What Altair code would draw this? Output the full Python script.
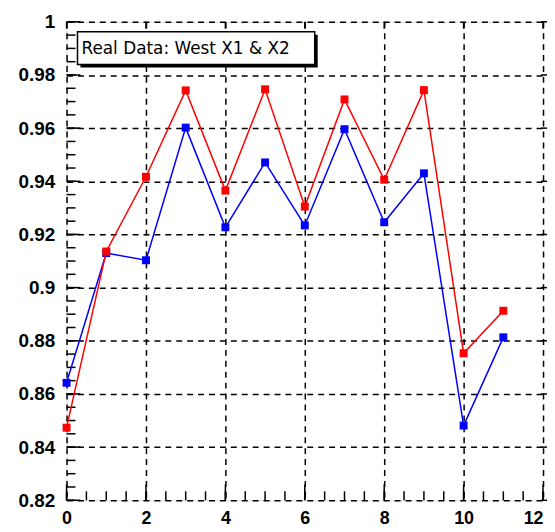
import altair as alt
import pandas as pd
import numpy as np

# ---- data ----
runs = list(range(12))
x2_vals = [0.8473, 0.9136, 0.9417, 0.9742, 0.9365, 0.9746, 0.9305, 0.9708, 0.9406, 0.9743, 0.8753, 0.8913]  # red
x1_vals = [0.8642, 0.9130, 0.9103, 0.9602, 0.9227, 0.9471, 0.9234, 0.9596, 0.9246, 0.9430, 0.8481, 0.8813]  # blue
series_names = ["X1", "X2"]
series_colors = ["#0000ff", "#ff0000"]
x_tick_labels = [0, 2, 4, 6, 8, 10, 12]
y_tick_labels = [0.82, 0.84, 0.86, 0.88, 0.90, 0.92, 0.94, 0.96, 0.98, 1.0]
title_text = "Real Data: West X1 & X2"

W, H = 484, 482
XDOM = [0, 12.1]
YDOM = [0.82, 1.0]

df = pd.DataFrame({
    "run": runs * 2,
    "value": x1_vals + x2_vals,
    "series": ["X1"] * len(runs) + ["X2"] * len(runs),
    "order": [0] * len(runs) + [1] * len(runs),
})

xs = alt.Scale(domain=XDOM, nice=False, zero=False)
ys = alt.Scale(domain=YDOM, nice=False, zero=False)

FONT = "Liberation Sans"

base_axes = alt.Chart(df).mark_point(opacity=0).encode(
    x=alt.X("run:Q", scale=xs, title=None,
            axis=alt.Axis(values=x_tick_labels, grid=True, gridDash=[6, 5], gridColor="black",
                          gridWidth=1.5, gridOpacity=1, ticks=False, tickSize=0, domain=False,
                          labelFont=FONT, labelFontSize=18, labelFontWeight="bold", labelColor="black",
                          labelPadding=9, labelFlush=False, labelOverlap=False, format="d",
                          labelAlign=alt.expr("datum.value >= 12 ? 'right' : 'center'"))),
    y=alt.Y("value:Q", scale=ys, title=None,
            axis=alt.Axis(values=y_tick_labels, grid=True, gridDash=[6, 5], gridColor="black",
                          gridWidth=1.5, gridOpacity=1, ticks=False, tickSize=0, domain=False,
                          labelFont=FONT, labelFontSize=19, labelFontWeight="bold", labelColor="black",
                          labelPadding=12, labelFlush=False, labelOverlap=False, format="~g")),
)

# inner ticks (ROOT style)
xminor = pd.DataFrame({"t": np.arange(0, 12.01, 0.5)})
xmajor = pd.DataFrame({"t": [float(v) for v in x_tick_labels]})
yminor = pd.DataFrame({"t": np.round(np.arange(0.82, 1.0001, 0.005), 4)})
ymajor = pd.DataFrame({"t": y_tick_labels})

xminor_ticks = alt.Chart(xminor).mark_rule(color="black", strokeWidth=1.5).encode(
    x=alt.X("t:Q", scale=xs), y=alt.value(H), y2=alt.value(H - 9))
xmajor_ticks = alt.Chart(xmajor).mark_rule(color="black", strokeWidth=1.5).encode(
    x=alt.X("t:Q", scale=xs), y=alt.value(H), y2=alt.value(H - 16))
xtop_ticks = alt.Chart(xmajor).mark_rule(color="black", strokeWidth=1.5).encode(
    x=alt.X("t:Q", scale=xs), y=alt.value(0), y2=alt.value(7))
yminor_ticks = alt.Chart(yminor).mark_rule(color="black", strokeWidth=1.5).encode(
    y=alt.Y("t:Q", scale=ys), x=alt.value(0), x2=alt.value(9))
ymajor_ticks = alt.Chart(ymajor).mark_rule(color="black", strokeWidth=1.5).encode(
    y=alt.Y("t:Q", scale=ys), x=alt.value(0), x2=alt.value(14))
yright_ticks = alt.Chart(ymajor).mark_rule(color="black", strokeWidth=1.5).encode(
    y=alt.Y("t:Q", scale=ys), x=alt.value(W), x2=alt.value(W - 6))

lines = alt.Chart(df).mark_line(
    strokeWidth=1.5,
    point=alt.OverlayMarkDef(shape="square", size=64, filled=True, opacity=1),
).encode(
    x=alt.X("run:Q", scale=xs),
    y=alt.Y("value:Q", scale=ys),
    color=alt.Color("series:N", scale=alt.Scale(domain=series_names, range=series_colors), legend=None),
    order=alt.Order("order:Q"),
    detail="series:N",
)

lines_x1 = lines.transform_filter(alt.datum.series == "X1")
lines_x2 = lines.transform_filter(alt.datum.series == "X2")

label_df = pd.DataFrame({"label": [title_text]})
shadow = alt.Chart(label_df).mark_rect(color="black").encode(
    x=alt.value(14), x2=alt.value(253), y=alt.value(13), y2=alt.value(46))
box = alt.Chart(label_df).mark_rect(fill="white", stroke="black", strokeWidth=1.5).encode(
    x=alt.value(11), x2=alt.value(250), y=alt.value(10), y2=alt.value(43))
label = alt.Chart(label_df).mark_text(align="left", baseline="middle", font="DejaVu Sans",
                                      fontSize=17, color="black").encode(
    x=alt.value(15), y=alt.value(27), text="label:N")

chart = alt.layer(
    base_axes, xminor_ticks, xmajor_ticks, xtop_ticks, yminor_ticks, ymajor_ticks, yright_ticks,
    lines_x1, lines_x2, shadow, box, label,
).properties(
    width=W, height=H,
    padding={"left": 59, "top": 12, "right": 0, "bottom": 25},
    autosize=alt.AutoSizeParams(type="none"),
).configure_view(
    stroke="black", strokeWidth=2,
).configure(background="white")

chart.save("out.html", embed_options={"renderer": "svg", "actions": False})
